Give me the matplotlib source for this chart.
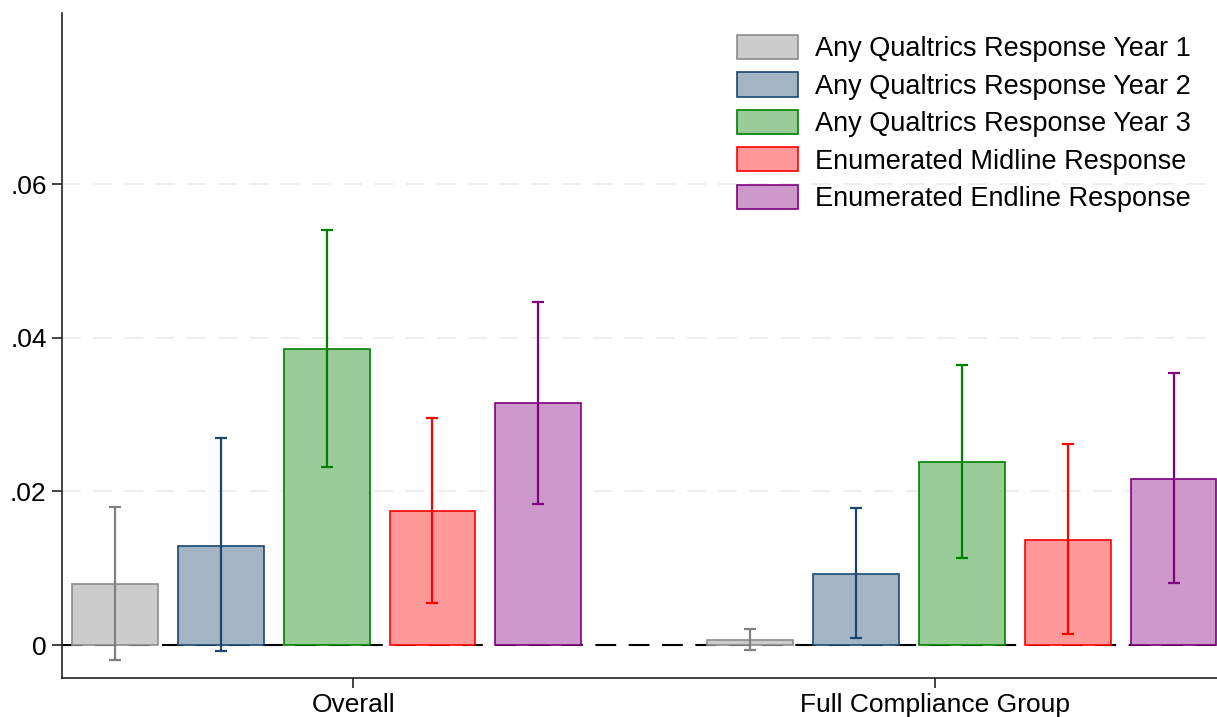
import numpy as np
import matplotlib.pyplot as plt

# Estimates
groups = ["Overall", "Full Compliance Group"]
series = [
    "Any Qualtrics Response Year 1",
    "Any Qualtrics Response Year 2",
    "Any Qualtrics Response Year 3",
    "Enumerated Midline Response",
    "Enumerated Endline Response",
]
# point estimates, per series: [Overall, Full Compliance]
estimates = [
    [0.0079, 0.0006],
    [0.0129, 0.0093],
    [0.0385, 0.0238],
    [0.0175, 0.0137],
    [0.0315, 0.0216],
]
ci_low = [
    [-0.0020, -0.0007],
    [-0.0008, 0.0009],
    [0.0232, 0.0113],
    [0.0055, 0.0014],
    [0.0184, 0.0081],
]
ci_high = [
    [0.0180, 0.0021],
    [0.0269, 0.0179],
    [0.0540, 0.0365],
    [0.0296, 0.0262],
    [0.0446, 0.0354],
]

edge_colors = ["#8c8c8c", "#1a476f", "#008000", "#ff0000", "#800080"]
fill_colors = ["#cccccc", "#a3b5c5", "#99cc99", "#ff9999", "#cd99cb"]
ci_colors = ["#808080", "#1a476f", "#008000", "#ff0000", "#800080"]

group_starts = [1, 7]
group_label_pos = [3.25, 8.75]
yticks = [0, 0.02, 0.04, 0.06]
ytick_labels = ["0", ".02", ".04", ".06"]

plt.rcParams["font.family"] = ["Liberation Sans", "DejaVu Sans"]

fig = plt.figure(figsize=(12.17, 7.17), dpi=100)
ax = fig.add_axes([0.0509, 0.0548, 0.9491, 0.9274])

for y in yticks[1:]:
    ax.axhline(y, color="#eeeeee", lw=1.5, dashes=(9, 6), zorder=0)
ax.axhline(0, color="black", lw=1.5, dashes=(10, 6), zorder=1)

width = 0.81
for i, name in enumerate(series):
    xs = [g + i for g in group_starts]
    ax.bar(xs, estimates[i], width=width, color=fill_colors[i],
           edgecolor=edge_colors[i], linewidth=1.2, label=name, zorder=2)
    lo = np.array(estimates[i]) - np.array(ci_low[i])
    hi = np.array(ci_high[i]) - np.array(estimates[i])
    ax.errorbar(xs, estimates[i], yerr=[lo, hi], fmt="none",
                ecolor=ci_colors[i], elinewidth=1.6, capsize=4,
                capthick=1.6, zorder=3)

ax.set_xlim(0.5, 11.41)
ax.set_ylim(-0.00425, 0.0823)
ax.set_yticks(yticks)
ax.set_yticklabels(ytick_labels)
ax.set_xticks(group_label_pos)
ax.set_xticklabels(groups)

for side in ["top", "right"]:
    ax.spines[side].set_visible(False)
for side in ["left", "bottom"]:
    ax.spines[side].set_linewidth(1.2)
    ax.spines[side].set_color("#222222")
ax.tick_params(axis="both", labelsize=19, length=7, width=1.2,
               color="#222222", pad=4)

ax.legend(loc="upper left", bbox_to_anchor=(737 / 1217, 1 - 35 / 717),
          bbox_transform=fig.transFigure, frameon=False, fontsize=19.5,
          handlelength=2.25, handleheight=1.0, handletextpad=0.62,
          labelspacing=0.37, borderpad=0, borderaxespad=0)

fig.savefig("out.png", dpi=100)
